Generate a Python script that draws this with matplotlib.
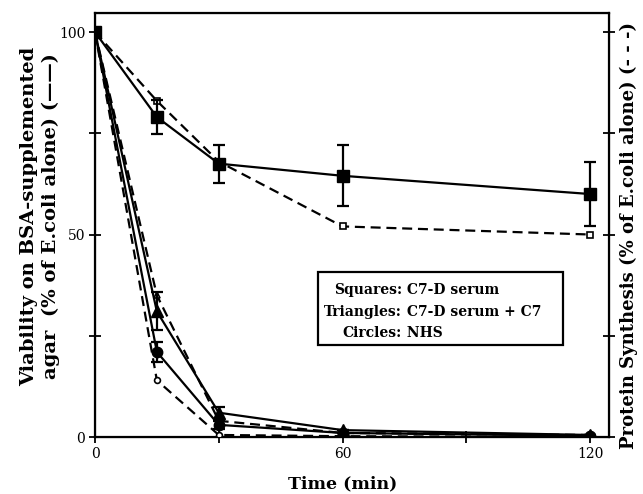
import matplotlib
matplotlib.use("Agg")
import matplotlib.pyplot as plt
from matplotlib.patches import Rectangle

# Time points (min)
time_min = [0, 15, 30, 60, 120]

# Viability on BSA-supplemented agar (solid lines, filled markers)
viab_squares = [100, 79, 67.5, 64.5, 60]
viab_squares_err = [0, 4.1, 4.7, 7.5, 7.8]
viab_triangles = [100, 31, 6, 1.7, 0.5]
viab_triangles_err = [0, 4.7, 1.5, 0, 0]
viab_circles = [100, 21, 3, 1, 0.3]
viab_circles_err = [0, 2.5, 1, 0, 0]

# Protein synthesis (dashed lines, open markers)
prot_squares = [100, 83, 68, 52, 50]
prot_triangles = [100, 35, 4, 1, 0.5]
prot_circles = [100, 14, 0.5, 0.2, 0]

x_ticks = [0, 30, 60, 90, 120]
x_labels = ["0", "", "60", "", "120"]
y_ticks = [0, 25, 50, 75, 100]
y_labels = ["0", "", "50", "", "100"]

legend_rows = [("Squares:", " C7-D serum"),
               ("Triangles:", " C7-D serum + C7"),
               ("Circles:", " NHS")]

plt.rcParams["font.family"] = ["DejaVu Serif"]

fig = plt.figure(figsize=(6.43, 4.94), dpi=100)
ax = fig.add_axes([95 / 643, 1 - 437 / 494, (609 - 95) / 643, (437 - 13) / 494])

lw = 1.6
dash = (0, (4.5, 2.6))

# dashed protein synthesis curves
ax.plot(time_min, prot_squares, color="black", lw=lw, linestyle=dash,
        marker="s", markersize=4.2, markerfacecolor="white",
        markeredgecolor="black", markeredgewidth=1.2, zorder=3)
ax.plot(time_min, prot_triangles, color="black", lw=lw, linestyle=dash,
        marker="^", markersize=4.5, markerfacecolor="white",
        markeredgecolor="black", markeredgewidth=1.2, zorder=3)
ax.plot(time_min, prot_circles, color="black", lw=lw, linestyle=dash,
        marker="o", markersize=4.2, markerfacecolor="white",
        markeredgecolor="black", markeredgewidth=1.2, zorder=3)

# solid viability curves with error bars
for vals, err, mk, ms in [(viab_squares, viab_squares_err, "s", 8.5),
                          (viab_triangles, viab_triangles_err, "^", 9),
                          (viab_circles, viab_circles_err, "o", 7.5)]:
    ax.errorbar(time_min, vals, yerr=err, color="black", lw=lw,
                marker=mk, markersize=ms, markerfacecolor="black",
                markeredgecolor="black", elinewidth=1.6, capsize=4,
                capthick=1.6, zorder=4)

ax.set_xlim(0, 124.6)
ax.set_ylim(0, 104.7)
ax.set_xticks(x_ticks)
ax.set_xticklabels(x_labels)
ax.set_yticks(y_ticks)
ax.set_yticklabels(y_labels)
ax.tick_params(direction="inout", length=8, width=1.3, labelsize=10, pad=3)
for s in ax.spines.values():
    s.set_linewidth(1.6)

ax2 = ax.twinx()
ax2.set_ylim(ax.get_ylim())
ax2.set_yticks(y_ticks)
ax2.set_yticklabels([])
ax2.tick_params(direction="inout", length=8, width=1.3)

ax.set_xlabel("Time (min)", fontsize=12.5, fontweight="bold")
ax.xaxis.set_label_coords(60 / 124.6, -0.09)
ax.set_ylabel("Viability on BSA-supplemented\nagar  (% of E.coli alone) (\u2014\u2014)",
              fontsize=14, fontweight="bold", linespacing=1.25)
ax.yaxis.set_label_coords(-(95 - 60) / 514, 0.52)
ax2.set_ylabel("Protein Synthesis (% of E.coli alone) (- - -)",
               fontsize=13, fontweight="bold")
ax2.yaxis.set_label_coords((620 - 95) / 514, 0.475)

# annotation box describing the symbols
def fx(px):
    return px / 643

def fy(py):
    return 1 - py / 494

box = Rectangle((fx(318), fy(345)), fx(563) - fx(318), fy(272) - fy(345),
                transform=fig.transFigure, facecolor="white",
                edgecolor="black", lw=1.6, zorder=10)
fig.patches.append(box)
colon_x = fx(402)
for i, (head, tail) in enumerate(legend_rows):
    yy = fy(290 + 21.5 * i)
    fig.text(colon_x, yy, head, ha="right", va="center", fontsize=10,
             fontweight="bold", zorder=11)
    fig.text(colon_x, yy, tail, ha="left", va="center", fontsize=10,
             fontweight="bold", zorder=11)

fig.savefig("out.png", dpi=100)
